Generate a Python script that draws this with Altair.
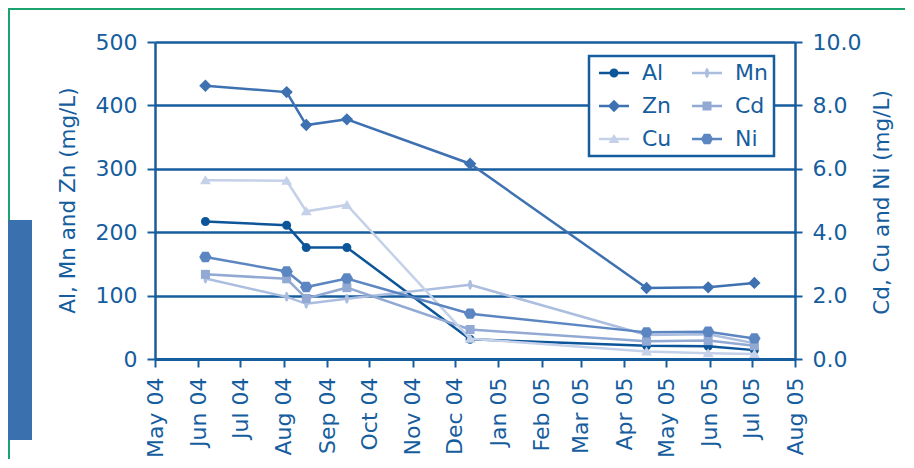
import altair as alt
import pandas as pd

# ---------------- data ----------------
dates = ["2004-06-06", "2004-08-03", "2004-08-17", "2004-09-15",
         "2004-12-12", "2005-04-17", "2005-05-31", "2005-07-03"]
al = [217, 211, 176, 176, 31, 21, 20, 14]
zn = [431, 421, 369, 378, 308, 112, 113, 120]
mn = [127, 98, 87, 95, 117, 38, 39, 25]
cd = [2.67, 2.53, 1.91, 2.25, 0.93, 0.56, 0.58, 0.42]
cu = [5.64, 5.62, 4.66, 4.86, 0.64, 0.24, 0.18, 0.16]
ni = [3.22, 2.76, 2.27, 2.54, 1.43, 0.84, 0.86, 0.65]

# legend fills column by column: (Al, Zn, Cu) then (Mn, Cd, Ni)
series_order = ["Al", "Zn", "Cu", "Mn", "Cd", "Ni"]
left_series = ["Al", "Zn", "Mn"]
right_series = ["Cd", "Cu", "Ni"]
left_ticks = [0, 100, 200, 300, 400, 500]
right_ticks = [0, 2, 4, 6, 8, 10]
month_ticks = [(2004, m) for m in range(5, 13)] + [(2005, m) for m in range(1, 9)]

# ---------------- styling ----------------
C = "#165d9e"
FONT = "DejaVu Sans"
color_of = {"Al": "#0d5599", "Zn": "#3e71b1", "Cu": "#c5d1e9",
            "Mn": "#abbedf", "Cd": "#91a9d3", "Ni": "#5c86c1"}
series_colors = [color_of[s] for s in series_order]
marker_paths = {
    "Al": "M0.45,0A0.45,0.45,0,1,1,-0.45,0A0.45,0.45,0,1,1,0.45,0Z",
    "Mn": "M0,-0.5A0.2,0.5,0,1,1,0,0.5A0.2,0.5,0,1,1,0,-0.5Z",
    "Zn": "M0,-0.62L0.62,0L0,0.62L-0.62,0Z",
    "Cd": "M-0.45,-0.45H0.45V0.45H-0.45Z",
    "Cu": "M0,-0.5L0.55,0.4L-0.55,0.4Z",
    "Ni": "M-0.62,0L-0.31,-0.52L0.31,-0.52L0.62,0L0.31,0.52L-0.31,0.52Z",
}
bar = "M-1.5,-0.13H1.5V0.13H-1.5Z"
data_shapes = [marker_paths[s] for s in series_order]
legend_shapes = [bar + marker_paths[s] for s in series_order]

values = {"Al": al, "Zn": zn, "Mn": mn, "Cd": cd, "Cu": cu, "Ni": ni}
rows = []
for s, vals in values.items():
    for d, v in zip(dates, vals):
        rows.append({"series": s, "date": d, "value": v})
df = pd.DataFrame(rows)
left_df = df[df.series.isin(left_series)]
right_df = df[df.series.isin(right_series)]


def dt(y, m):
    return alt.DateTime(year=y, month=m, date=1, utc=True)


x_axis = alt.Axis(
    values=[dt(y, m) for y, m in month_ticks], format="%b %y", labelAngle=270,
    labelFont=FONT, labelFontSize=22, labelColor=C, labelOverlap=False,
    labelFlush=False, labelPadding=10, tickSize=8, tickWidth=2, tickColor=C,
    domainColor=C, domainWidth=3, grid=False, title=None,
)
x_enc = alt.X("date:T", scale=alt.Scale(type="utc", domain=[dt(2004, 5), dt(2005, 8)]), axis=x_axis)

fill_scale = alt.Scale(domain=series_order, range=series_colors)
data_shape_scale = alt.Scale(domain=series_order, range=data_shapes)

left_axis = alt.Axis(
    values=left_ticks, format="d", labelFont=FONT, labelFontSize=22, labelColor=C,
    labelPadding=10, tickSize=8, tickWidth=2, tickColor=C, domainColor=C,
    domainWidth=2.5, grid=True, gridColor=C, gridWidth=2.5,
    title="Al, Mn and Zn (mg/L)", titleFont=FONT, titleFontSize=21.5,
    titleFontWeight="normal", titleColor=C, titleAngle=270, titleX=-87, titleY=158,
    titleAlign="center", titleBaseline="middle",
)
right_axis = alt.Axis(
    orient="right", values=right_ticks, format=".1f", labelFont=FONT, labelFontSize=22,
    labelColor=C, labelPadding=10, tickSize=7, tickWidth=2, tickColor=C,
    domainColor=C, domainWidth=2.5, grid=False,
    title="Cd, Cu and Ni (mg/L)", titleFont=FONT, titleFontSize=21.5,
    titleFontWeight="normal", titleColor=C, titleAngle=270, titleX=87, titleY=160,
    titleAlign="center", titleBaseline="middle",
)


def group(data, ydom, axis):
    y_enc = alt.Y("value:Q", scale=alt.Scale(domain=ydom, nice=False), axis=axis)
    lines = alt.Chart(data).mark_line(strokeWidth=2.5).encode(
        x=x_enc, y=y_enc,
        stroke=alt.Stroke("series:N", scale=fill_scale, legend=None),
        detail="series:N",
    )
    pts = alt.Chart(data).mark_point(filled=True, size=400, opacity=1, strokeWidth=0).encode(
        x=x_enc, y=y_enc,
        fill=alt.Fill("series:N", scale=fill_scale, legend=None),
        shape=alt.Shape("series:N", scale=data_shape_scale, legend=None),
    )
    return alt.layer(lines, pts)


left_group = group(left_df, [0, 500], left_axis)
right_group = group(right_df, [0, 10], right_axis)

leg = alt.Legend(
    title=None, orient="none", legendX=434, legendY=14, columns=2,
    symbolSize=400, symbolOffset=8, labelOffset=17, columnPadding=16, rowPadding=11,
    padding=6, labelFont=FONT, labelFontSize=22, labelColor=C, strokeColor=C,
    fillColor="white", symbolStrokeWidth=0, symbolOpacity=1, zindex=1,
)
legend_layer = alt.Chart(df).mark_point(filled=True, size=400, opacity=1).encode(
    fill=alt.Fill("series:N", scale=fill_scale, legend=leg),
    shape=alt.Shape("series:N", scale=alt.Scale(domain=series_order, range=legend_shapes), legend=leg),
).transform_filter("false")

one = pd.DataFrame({"d": [0]})
frame_left = alt.Chart(one).mark_rule(color="#1aa36f", strokeWidth=2).encode(
    x=alt.value(-146), y=alt.value(-34), y2=alt.value(420))
frame_top = alt.Chart(one).mark_rule(color="#1aa36f", strokeWidth=2).encode(
    x=alt.value(-147), x2=alt.value(760), y=alt.value(-33))
side_box = alt.Chart(one).mark_rect(color="#3b70ae").encode(
    x=alt.value(-147), x2=alt.value(-123), y=alt.value(178), y2=alt.value(398))

chart = alt.layer(
    frame_left, frame_top, side_box, left_group, right_group, legend_layer
).resolve_scale(
    y="independent", shape="independent", fill="independent"
).properties(
    width=640, height=317,
    autosize=alt.AutoSizeParams(type="none"),
    padding={"left": 147, "top": 34, "right": 110, "bottom": 100},
    background="white",
).configure_view(stroke=None).configure_legend(strokeWidth=2.5)

chart.save("out.html", embed_options={"renderer": "svg", "actions": False})
